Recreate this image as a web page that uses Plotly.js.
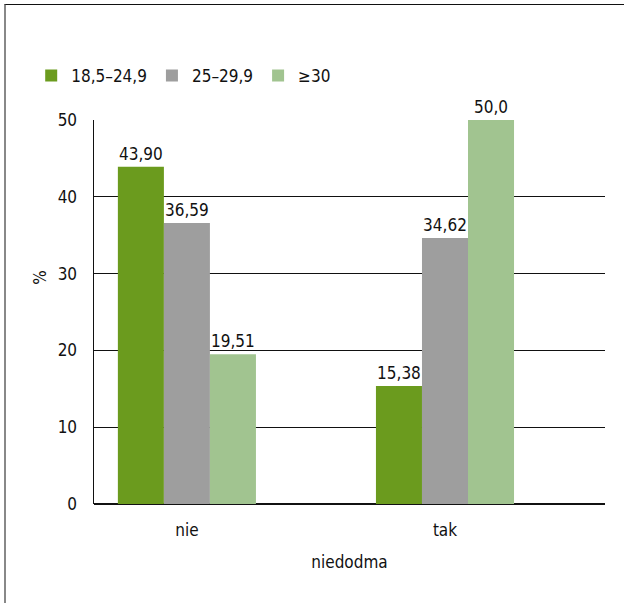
<!DOCTYPE html>
<html>
<head>
<meta charset="utf-8">
<script src="https://cdn.plot.ly/plotly-3.0.1.min.js"></script>
<style>
  html, body { margin: 0; padding: 0; background: #fff; }
  #wrap { position: relative; width: 624px; height: 603px; }
  #chart { position: absolute; left: 0; top: 0; width: 624px; height: 603px; }
  #frame { position: absolute; left: 4px; top: 4px; width: 620px; height: 599px;
           border-top: 1.5px solid #111; border-left: 2px solid #888; pointer-events: none; }
</style>
</head>
<body>
<div id="wrap">
  <div id="chart"></div>
  <div id="frame"></div>
</div>
<script>
const categories = ["nie", "tak"];
const seriesNames = ["18,5\u201324,9", "25\u201329,9", "\u226530"];
const valsNormal = [43.90, 15.38];
const valsOver = [36.59, 34.62];
const valsObese = [19.51, 50.0];
const labelsNormal = ["43,90", "15,38"];
const labelsOver = ["36,59", "34,62"];
const labelsObese = ["19,51", "50,0"];
const yTicks = [0, 10, 20, 30, 40, 50];
const xTitle = "niedodma";
const yTitle = "%";

const FONT = "Liberation Sans Narrow, Arial Narrow, DejaVu Sans Condensed, sans-serif";
const colors = ["#6B9B1E", "#9E9E9E", "#A1C490"];
const vals = [valsNormal, valsOver, valsObese];
const labs = [labelsNormal, labelsOver, labelsObese];

const traces = vals.map((v, i) => ({
  type: "bar",
  name: seriesNames[i],
  x: categories,
  y: v,
  text: labs[i],
  textposition: "outside",
  cliponaxis: false,
  textfont: { family: FONT, size: 17, color: "#111" },
  marker: { color: colors[i], line: { width: 0 } },
  hoverinfo: "none"
}));

const layout = {
  width: 624,
  height: 603,
  margin: { l: 94, r: 19, t: 120, b: 99 },
  paper_bgcolor: "#fff",
  plot_bgcolor: "#fff",
  font: { family: FONT, size: 17, color: "#111" },
  barmode: "group",
  bargap: 0.465,
  bargroupgap: 0,
  showlegend: true,
  legend: {
    orientation: "h",
    x: 0.05, xref: "container", xanchor: "left",
    y: 0.874, yref: "container", yanchor: "middle",
    font: { family: FONT, size: 17, color: "#111" },
    traceorder: "normal",
    itemclick: false
  },
  xaxis: {
    type: "category",
    range: [-0.36, 1.62],
    showline: false,
    showgrid: false,
    ticks: "",
    tickfont: { family: FONT, size: 17, color: "#111" },
    ticklabelstandoff: 14,
    title: { text: xTitle, font: { family: FONT, size: 17, color: "#111" }, standoff: 17 },
    fixedrange: true
  },
  yaxis: {
    range: [0, 50],
    tickvals: yTicks,
    ticktext: yTicks.map(String),
    showline: true,
    linecolor: "#111",
    linewidth: 1.5,
    showgrid: true,
    gridcolor: "#111",
    gridwidth: 1,
    zeroline: true,
    zerolinecolor: "#111",
    zerolinewidth: 2,
    ticks: "",
    ticklabelstandoff: 12,
    tickfont: { family: FONT, size: 17, color: "#111" },
    fixedrange: true
  },
  annotations: [{
    text: yTitle,
    xref: "paper", yref: "paper",
    x: -0.105, y: 0.59,
    xanchor: "center", yanchor: "middle",
    textangle: -90,
    showarrow: false,
    font: { family: FONT, size: 17, color: "#111" }
  }]
};

Plotly.newPlot("chart", traces, layout, { staticPlot: true, displayModeBar: false });
</script>
</body>
</html>
